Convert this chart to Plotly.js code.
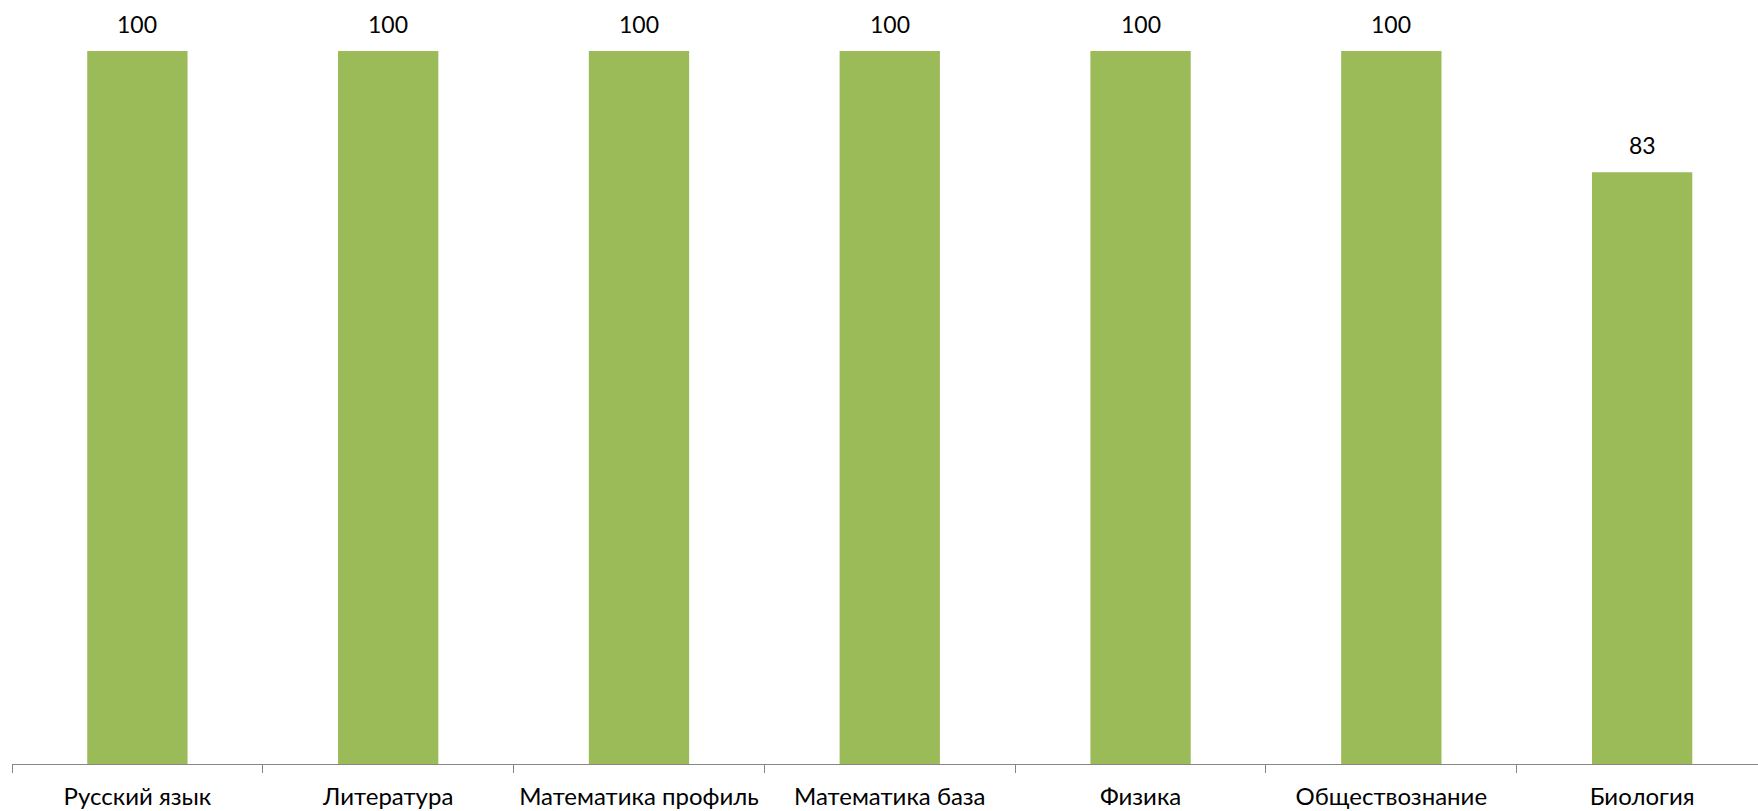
<!DOCTYPE html>
<html>
<head>
<meta charset="utf-8">
<script src="https://cdn.plot.ly/plotly-3.0.1.min.js"></script>
<style>html,body{margin:0;padding:0;overflow:hidden;background:#fff}</style>
</head>
<body>
<div id="chart" style="width:1758px;height:811px"></div>
<script>
const categories = ["Русский язык", "Литература", "Математика профиль", "Математика база", "Физика", "Обществознание", "Биология"];
const values = [100, 100, 100, 100, 100, 100, 83];

const FONT = "Lato, Open Sans, sans-serif";

const trace = {
  type: "bar",
  x: categories,
  y: values,
  marker: {color: "#9BBB59"},
  hoverinfo: "none"
};

const annotations = categories.map((c, i) => ({
  x: c,
  y: values[i],
  xref: "x",
  yref: "y",
  text: String(values[i]),
  showarrow: false,
  yanchor: "middle",
  yshift: 27,
  font: {family: FONT, size: 23, color: "#000"}
}));

const layout = {
  width: 1758,
  height: 811,
  margin: {l: 12, r: 0, t: 51, b: 47, pad: 0},
  paper_bgcolor: "#fff",
  plot_bgcolor: "#fff",
  showlegend: false,
  bargap: 0.6,
  font: {family: FONT, size: 24, color: "#000"},
  annotations: annotations,
  xaxis: {
    type: "category",
    range: [-0.5, 6.462],
    showline: true,
    linecolor: "#868686",
    linewidth: 1,
    ticks: "outside",
    tickson: "boundaries",
    ticklen: 8,
    tickcolor: "#868686",
    tickwidth: 1,
    showgrid: false,
    zeroline: false,
    tickfont: {family: FONT, size: 24, color: "#000"},
    ticklabelstandoff: 11
  },
  yaxis: {
    range: [0, 100],
    visible: false,
    showgrid: false,
    zeroline: false
  }
};

Plotly.newPlot("chart", [trace], layout, {displayModeBar: false, staticPlot: true});
</script>
</body>
</html>
